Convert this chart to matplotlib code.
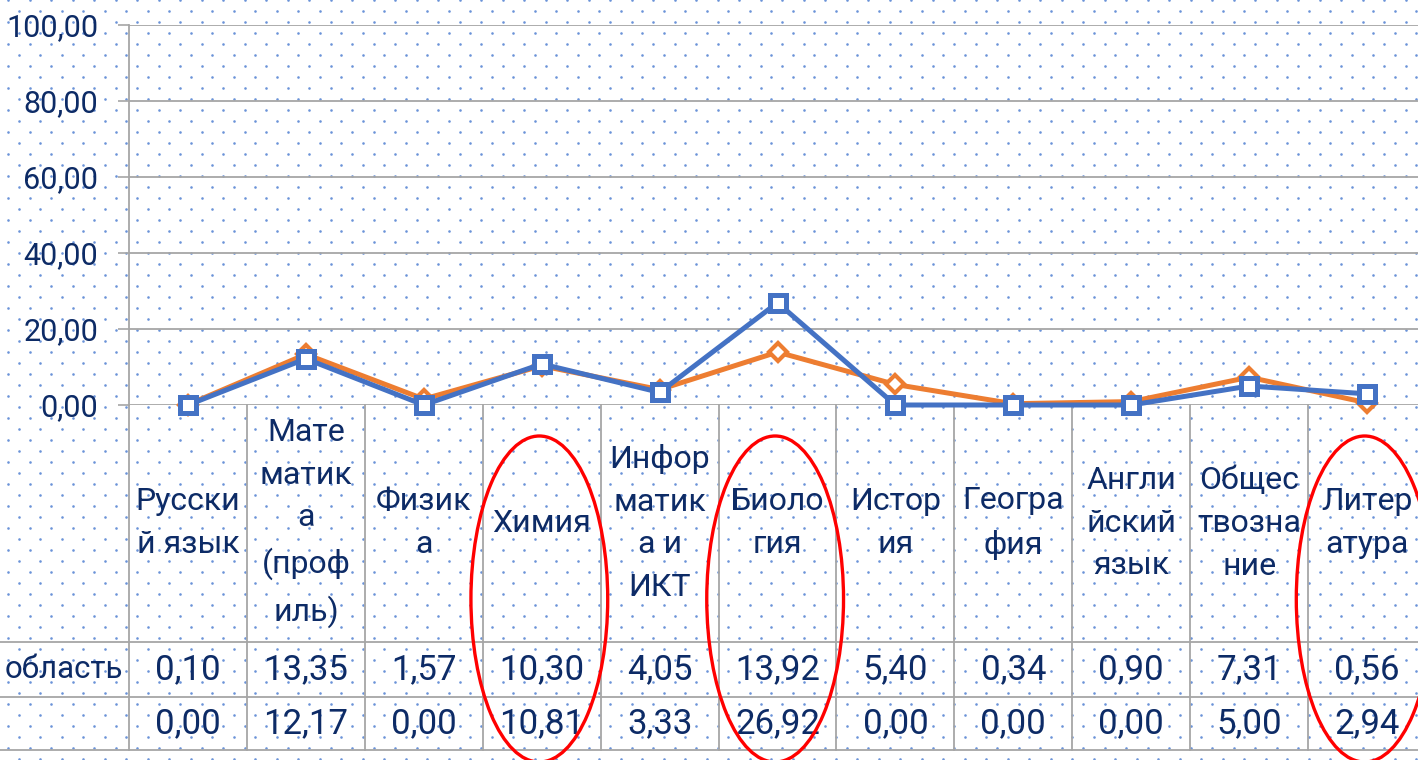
import matplotlib
matplotlib.use('Agg')
import matplotlib.pyplot as plt
import numpy as np
from matplotlib.patches import Ellipse

# data
subjects = ['Русски\nй язык', 'Мате\nматик\nа\n(проф\nиль)', 'Физик\nа', 'Химия',
            'Инфор\nматик\nа и\nИКТ', 'Биоло\nгия', 'Истор\nия', 'Геогра\nфия',
            'Англи\nйский\nязык', 'Общес\nтвозна\nние', 'Литер\nатура']
oblast = [0.10, 13.35, 1.57, 10.30, 4.05, 13.92, 5.40, 0.34, 0.90, 7.31, 0.56]
school = [0.00, 12.17, 0.00, 10.81, 3.33, 26.92, 0.00, 0.00, 0.00, 5.00, 2.94]
row_labels = ['область', '']
yticks = [0, 20, 40, 60, 80, 100]
circled = [3, 5, 10]

plt.rcParams['font.family'] = ['Roboto', 'DejaVu Sans']
TXT = '#0D2B66'
GRID = '#A6A6A6'
ORANGE = '#ED7D31'
BLUE = '#4472C4'

W, H = 1418, 760
fig = plt.figure(figsize=(W / 100, H / 100), dpi=100)

# dotted background pattern over the whole figure
bg = fig.add_axes([0, 0, 1, 1], zorder=-5)
bg.set_xlim(0, W)
bg.set_ylim(H, 0)
bg.axis('off')
dx, dy = 21.5, 11.0
pts = []
for r, yy in enumerate(np.arange(0, H + dy, dy)):
    off = 8 if r % 2 == 0 else 8 + dx / 2
    for xx in np.arange(off, W + dx, dx):
        pts.append((xx, yy))
pts = np.array(pts)
bg.scatter(pts[:, 0], pts[:, 1], s=3.5, color='#6B93D8', linewidths=0)

# main axes
left, right, top, bottom = 129, 1426, 25, 405
ax = fig.add_axes([left / W, (H - bottom) / H, (right - left) / W, (bottom - top) / H])
ax.patch.set_alpha(0)
n = len(subjects)
x = np.arange(n)
ax.set_xlim(-0.5, n - 0.5)
ax.set_ylim(0, 100)

ax.plot(x, oblast, color=ORANGE, lw=3.6, marker='D', ms=9, mew=3,
        mfc='white', mec=ORANGE, zorder=3, clip_on=False)
ax.plot(x, school, color=BLUE, lw=3.6, marker='s', ms=12, mew=3.6,
        mfc='white', mec=BLUE, zorder=4, clip_on=False)

ax.set_yticks(yticks)
ax.set_yticklabels([f'{v:.2f}'.replace('.', ',') for v in yticks])
ax.tick_params(axis='y', length=8, width=1.2, color=GRID, pad=14,
               labelsize=22, labelcolor=TXT)
ax.set_xticks([])
ax.grid(axis='y', color=GRID, lw=1.3)
ax.set_axisbelow(True)
for s in ['top', 'right', 'bottom']:
    ax.spines[s].set_visible(False)
ax.spines['left'].set_color(GRID)
ax.spines['left'].set_linewidth(1.3)

# data table below the plot (y in axes coords)
def ay(py):
    return (bottom - py) / (bottom - top)

xt = ax.get_xaxis_transform()
row_lines = [642, 697, 750]
for py in row_lines:
    ax.plot([-left / (right - left), 1], [ay(py), ay(py)], transform=ax.transAxes,
            color=GRID, lw=1.3, clip_on=False)
for i in range(n + 1):
    ax.plot([i - 0.5, i - 0.5], [0, ay(750)], transform=xt,
            color=GRID, lw=1.3, clip_on=False)

for i, s in enumerate(subjects):
    ax.text(i, ay(523), s, transform=xt, ha='center', va='center',
            fontsize=23, color=TXT, linespacing=1.6, clip_on=False)

for vals, cy, lab in [(oblast, 670, row_labels[0]), (school, 724, row_labels[1])]:
    for i, v in enumerate(vals):
        ax.text(i, ay(cy), f'{v:.2f}'.replace('.', ','), transform=xt,
                ha='center', va='center', fontsize=25, color=TXT, clip_on=False)
    ax.text(-0.55, ay(cy), lab, transform=xt, ha='right', va='center',
            fontsize=22.5, color=TXT, clip_on=False)

# red highlight ellipses
for i in circled:
    e = Ellipse((i - 0.02, ay(599)), width=1.16, height=326 / (bottom - top),
                transform=xt, fill=False, edgecolor='#FF0000', lw=2.4,
                clip_on=False, zorder=6)
    ax.add_patch(e)

fig.savefig('out.png', dpi=100)
